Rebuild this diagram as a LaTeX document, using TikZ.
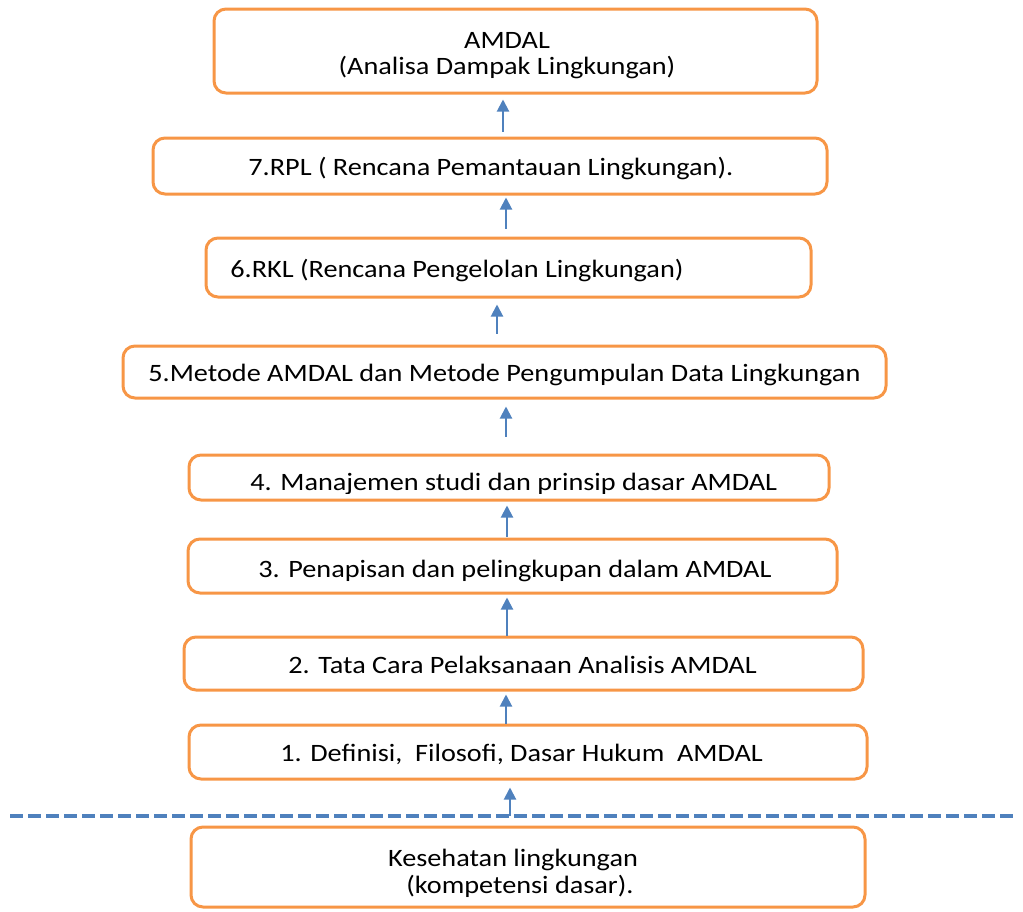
\documentclass[tikz,border=0pt]{standalone}
\usepackage{fontspec}
\setmainfont{Carlito}[FakeStretch=1.13]
\usetikzlibrary{arrows.meta,calc}

\definecolor{boxorange}{HTML}{F79646}
\definecolor{flowblue}{HTML}{4F81BD}

\tikzset{
  stagebox/.style={draw=boxorange, line width=1.5pt, rounded corners=6pt,
                   fill=white, inner sep=0pt},
  label/.style={inner sep=0pt, font=\fontsize{12.5pt}{15pt}\selectfont, text=black},
  uparrow/.style={draw=flowblue, line width=1pt,
                  -{Triangle[length=6pt,width=6pt]}},
  divider/.style={draw=flowblue, line width=1.6pt, dash pattern=on 6.5pt off 2.5pt},
}

\begin{document}
\begin{tikzpicture}[x=0.5pt,y=-0.5pt]
\useasboundingbox (0,0) rectangle (1023,911);

% stage boxes, bottom (foundation) to top (AMDAL)
\node[stagebox, minimum width=337pt, minimum height=40pt] (b0) at (528,867) {};
\node[stagebox, minimum width=339pt, minimum height=27pt] (b1) at (528,752) {};
\node[stagebox, minimum width=339.5pt, minimum height=26.5pt] (b2) at (523.5,663.5) {};
\node[stagebox, minimum width=324.5pt, minimum height=27pt] (b3) at (512.5,566) {};
\node[stagebox, minimum width=320pt, minimum height=22.5pt] (b4) at (509,477.5) {};
\node[stagebox, minimum width=381.5pt, minimum height=26pt] (b5) at (504.5,372) {};
\node[stagebox, minimum width=302.5pt, minimum height=29.5pt] (b6) at (508.5,267.5) {};
\node[stagebox, minimum width=337pt, minimum height=28pt] (b7) at (490,166) {};
\node[stagebox, minimum width=301.5pt, minimum height=42pt] (b8) at (515.5,51) {};

% box texts
\node[label, anchor=base] (t8a) at (507,48) {AMDAL};
\node[label, anchor=base] (t8b) at (507,74) {(Analisa Dampak Lingkungan)};
\node[label, anchor=base west] (t7) at (248,175) {7.RPL ( Rencana Pemantauan Lingkungan).};
\node[label, anchor=base west] (t6) at (230,277) {6.RKL (Rencana Pengelolan Lingkungan)};
\node[label, anchor=base west] (t5) at (148,381) {5.Metode AMDAL dan Metode Pengumpulan Data Lingkungan};
\begin{scope}
  % the line sits low in its box, so its descenders are cut off
  \clip (190,456) rectangle (828,493.5);
  \node[label, anchor=base west] (t4) at (250,490) {4. Manajemen studi dan prinsip dasar AMDAL};
\end{scope}
\node[label, anchor=base west] (t3) at (258,577) {3. Penapisan dan pelingkupan dalam AMDAL};
\node[label, anchor=base west] (t2) at (288,673) {2. Tata Cara Pelaksanaan Analisis AMDAL};
\node[label, anchor=base west] (t1) at (280,761) {1. Definisi,\ \ Filosofi, Dasar Hukum\ \ AMDAL};
\node[label, anchor=base] (t0a) at (513,866) {Kesehatan lingkungan};
\node[label, anchor=base] (t0b) at (520,893) {(kompetensi dasar).};

% dashed divider between the foundation and the AMDAL stages
\coordinate (dl) at (10,816);
\coordinate (dr) at (1015,816);
\coordinate (cut) at (510,816);
\draw[divider] (dl) -- (dr);

% upward arrows
\draw[uparrow] (cut) -- ($(b1.south)+(-18,7)$);
\draw[uparrow] ($(b1.north)+(-22,0)$) -- ($(b2.south)+(-17.5,3)$);
\draw[uparrow] ($(b2.north)+(-16.5,0)$) -- ($(b3.south)+(-5.5,3)$);
\draw[uparrow] ($(b3.north)+(-5.5,-1)$) -- ($(b4.south)+(-2,4)$);
\draw[uparrow] ($(b4.north)+(-3,-17)$) -- ($(b5.south)+(1.5,7)$);
\draw[uparrow] ($(b5.north)+(-7.5,-11)$) -- ($(b6.south)+(-11.5,6)$);
\draw[uparrow] ($(b6.north)+(-2.5,-8)$) -- ($(b7.south)+(16,2)$);
\draw[uparrow] ($(b7.north)+(13,-5)$) -- ($(b8.south)+(-12.5,5)$);
\end{tikzpicture}
\end{document}
